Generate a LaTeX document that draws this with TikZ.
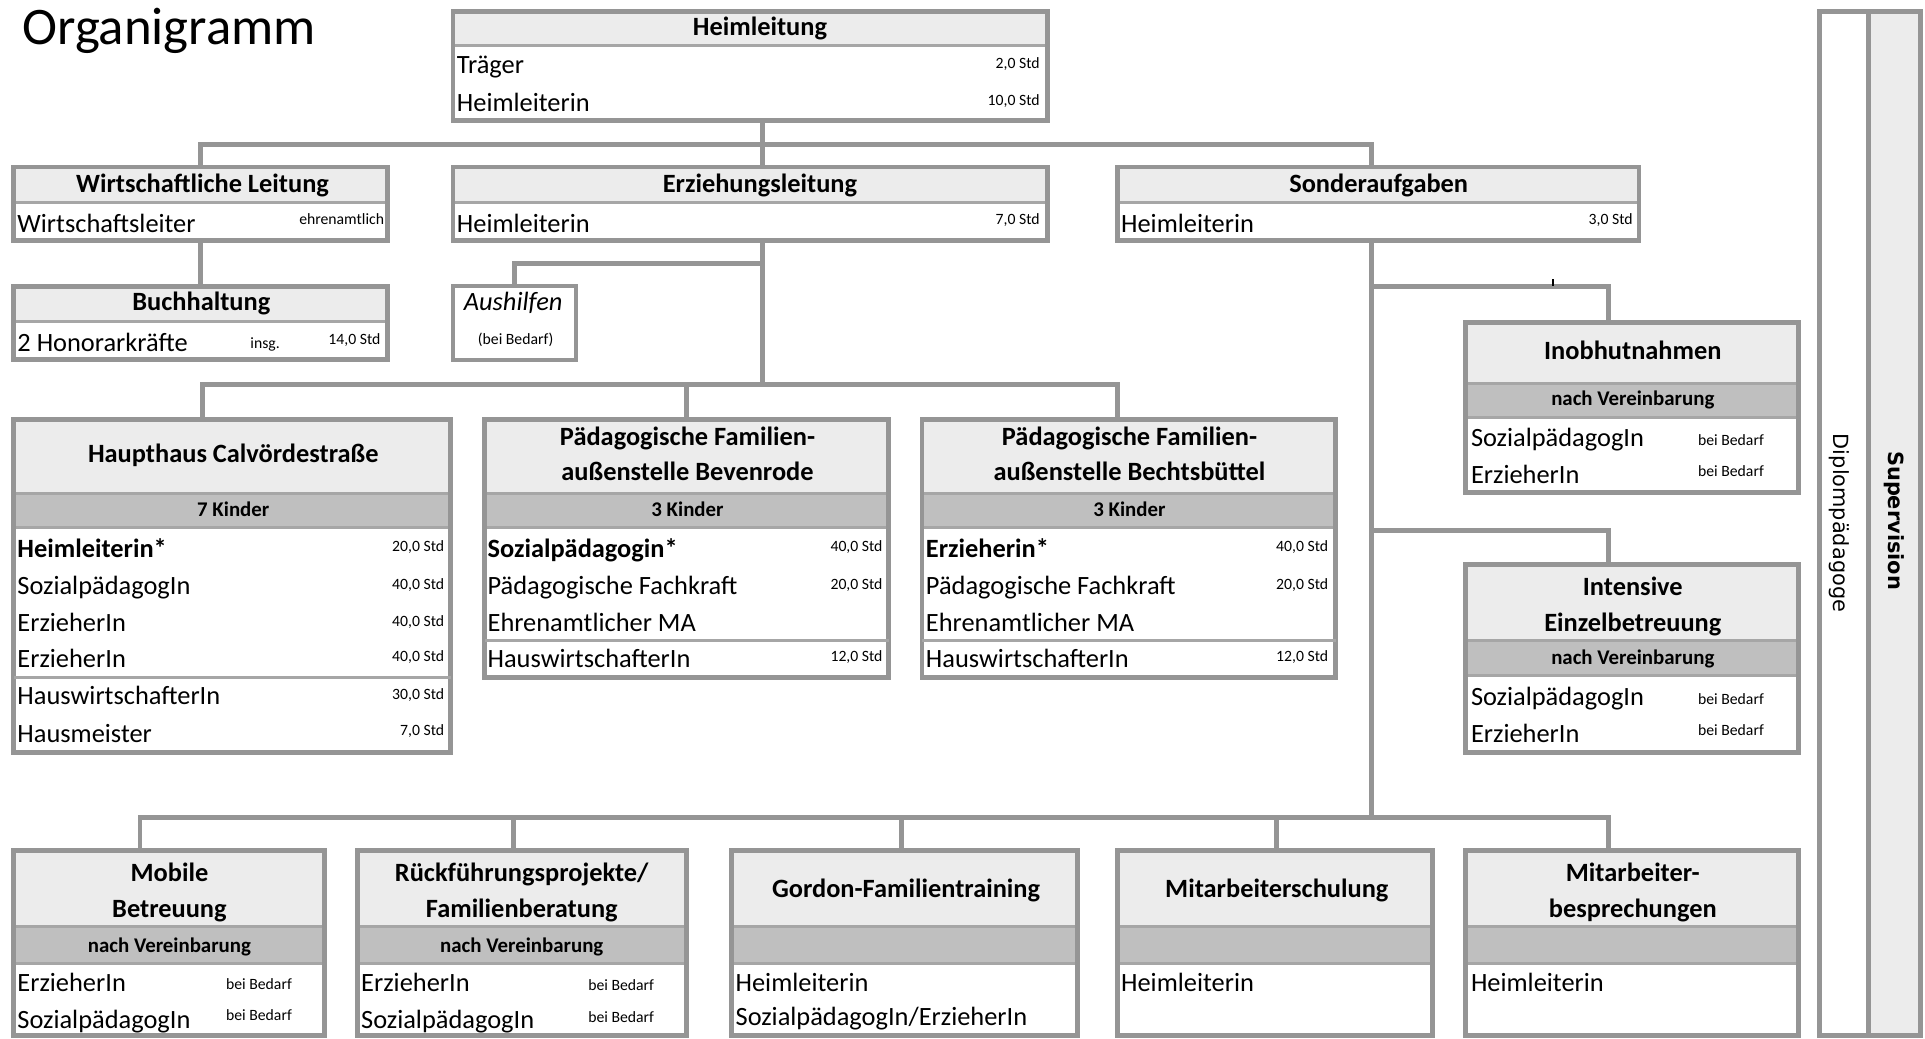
\documentclass[tikz,border=0pt]{standalone}
\usepackage{fontspec}
\setmainfont{Carlito}
\newfontfamily\dejavu{DejaVu Sans}
\usetikzlibrary{fit}
\definecolor{bord}{HTML}{959595}
\definecolor{hdr}{HTML}{ECECEC}
\definecolor{subc}{HTML}{BFBFBF}
\definecolor{sepc}{HTML}{A6A6A6}
\newcounter{tn}
\newcommand\lab[3][]{\stepcounter{tn}\node[#1] (t\arabic{tn}) at (#2) {#3};}
\newcommand\orgA[6]{%
 \fill[white] (#2,#3) rectangle (#4,#5);
 \fill[hdr] (#2,#3) rectangle (#4,#6);
 \draw[sepl] (#2,#6) -- (#4,#6);
 \node[frame, fit={(#2,#3) (#4,#5)}] (#1) {};}
\newcommand\orgB[7]{%
 \fill[white] (#2,#3) rectangle (#4,#5);
 \fill[hdr] (#2,#3) rectangle (#4,#6);
 \fill[subc] (#2,#6) rectangle (#4,#7);
 \draw[sepl] (#2,#6) -- (#4,#6);
 \draw[sepl] (#2,#7) -- (#4,#7);
 \node[frame, fit={(#2,#3) (#4,#5)}] (#1) {};}
\tikzset{
 frame/.style={draw=bord, line width=4pt, rectangle, inner sep=0pt, outer sep=0pt},
 sepl/.style={draw=sepc, line width=2.5pt},
 conn/.style={draw=bord, line width=4pt, line join=miter},
 hd/.style={font=\fontsize{21.5}{26}\selectfont\bfseries, inner sep=0pt, anchor=base},
 sh/.style={font=\fontsize{17}{20}\selectfont\bfseries, inner sep=0pt, anchor=base},
 tx/.style={font=\fontsize{21.5}{26}\selectfont, inner sep=0pt, anchor=base west},
 tb/.style={tx, font=\fontsize{21.5}{26}\selectfont\bfseries},
 hr/.style={font=\fontsize{12.8}{15}\selectfont, inner sep=0pt, anchor=base east},
 hl/.style={hr, anchor=base west},
 hc/.style={hr, anchor=base},
}
\begin{document}
\begin{tikzpicture}[x=1pt,y=-1pt]
\useasboundingbox[fill=white] (0,0) rectangle (1568,845.5);

% ---------- boxes ----------
\orgA{heim}{369}{9}{853}{98}{37}
\orgA{wirt}{11}{136}{316}{196}{165}
\orgA{er}{369}{136}{853}{196}{165}
\orgA{sond}{910}{136}{1335}{196}{165}
\orgA{buch}{11}{233}{316}{293}{262}
\fill[white] (369,233) rectangle (469,293);
\node[frame, line width=3pt, fit={(369,233) (469,293)}] (aush) {};

\orgB{hh}{11}{342}{367}{613}{402}{430}
\draw[sepl] (11,552) -- (367,552);
\orgB{bev}{395}{342}{724}{552}{402}{430}
\draw[sepl] (395,522) -- (724,522);
\orgB{bech}{751}{342}{1088}{552}{402}{430}
\draw[sepl] (751,522) -- (1088,522);

\orgB{inob}{1194}{263}{1465}{401}{312}{340}
\orgB{int}{1194}{460}{1465}{613}{522}{550}

\orgB{mob}{11}{693}{264}{843.5}{755}{785}
\orgB{rue}{291}{693}{559}{843.5}{755}{785}
\orgB{gor}{596}{693}{878}{843.5}{755}{785}
\orgB{msch}{910}{693}{1167}{843.5}{755}{785}
\orgB{mit}{1194}{693}{1465}{843.5}{755}{785}

\fill[white] (1482,9) rectangle (1522,843.5);
\fill[hdr] (1522,9) rectangle (1564,843.5);
\node[frame, fit={(1482,9) (1564,843.5)}] (sup) {};
\coordinate (dv) at (1522,0);
\draw[conn] (sup.north -| dv) -- (sup.south -| dv);

% ---------- connectors ----------
\coordinate (jA) at (165,118);
\coordinate (jE) at (621,118);
\coordinate (jB) at (1117,118);
\coordinate (jF) at (621,215);
\coordinate (jG) at (621,313);
\coordinate (jH) at (165,313);
\coordinate (jI) at (910,313);
\coordinate (jS1) at (1117,233);
\coordinate (jS2) at (1117,432);
\coordinate (jS3) at (1117,666);
\coordinate (jI1) at (1310,233);
\coordinate (jI2) at (1310,432);
\coordinate (jM) at (114,666);
\coordinate (jR) at (418,666);
\coordinate (jGo) at (734,666);
\coordinate (jMs) at (1040,666);
\coordinate (jN) at (1310,666);
\coordinate (tk) at (1265,227.5);

\draw[conn] (wirt.north) -- (wirt.north |- jA) -- (jB) -- (sond.north -| jB);
\draw[conn] (heim.south -| jE) -- (er.north -| jE);
\draw[conn] (wirt.south) -- (buch.north);
\draw[conn] (er.south -| jG) -- (jG);
\draw[conn] (jF) -| (aush.north);
\draw[conn] (hh.north -| jH) -- (jH) -- (jI) -- (bech.north -| jI);
\draw[conn] (bev.north) -- (bev.north |- jG);
\draw[conn] (sond.south -| jS3) -- (jS3);
\draw[conn] (jS1) -- (jI1) -- (inob.north -| jI1);
\draw[conn] (jS2) -- (jI2) -- (int.north -| jI2);
\draw[conn] (mob.north -| jM) -- (jM) -- (jN) -- (mit.north -| jN);
\draw[conn] (jR) -- (rue.north -| jR);
\draw[conn] (jGo) -- (gor.north -| jGo);
\draw[conn] (jMs) -- (msch.north -| jMs);
\draw[black, line width=1pt] (tk) -- (tk |- jS1);

% ---------- texts ----------
\lab[anchor=base west, font=\fontsize{43}{50}\selectfont, inner sep=0pt]{18,36}{Organigramm}

\lab[hd]{619,29}{Heimleitung}
\lab[tx]{372,60}{Träger}
\lab[hr]{847,56}{2,0 Std}
\lab[tx]{372,91}{Heimleiterin}
\lab[hr]{847,86}{10,0 Std}

\lab[hd]{165,157}{Wirtschaftliche Leitung}
\lab[tx]{14,189}{Wirtschaftsleiter}
\lab[hr]{313,183}{ehrenamtlich}

\lab[hd]{619,157}{Erziehungsleitung}
\lab[tx]{372,189}{Heimleiterin}
\lab[hr]{847,183}{7,0 Std}

\lab[hd]{1123,157}{Sonderaufgaben}
\lab[tx]{913,189}{Heimleiterin}
\lab[hr]{1330,183}{3,0 Std}

\lab[hd]{164,253}{Buchhaltung}
\lab[tx]{14,286}{2 Honorarkräfte}
\lab[hc]{216,284}{insg.}
\lab[hr]{310,281}{14,0 Std}

\lab[tx, anchor=base, font=\fontsize{21.5}{26}\selectfont\itshape]{418,253}{Aushilfen}
\lab[hc]{420,281}{(bei Bedarf)}

% Haupthaus
\lab[hd]{190,377}{Haupthaus Calvördestraße}
\lab[sh]{190,420.5}{7 Kinder}
\lab[tb]{14,454}{Heimleiterin*}
\lab[hr]{362,449}{20,0 Std}
\lab[tx]{14,484}{SozialpädagogIn}
\lab[hr]{362,480}{40,0 Std}
\lab[tx]{14,514}{ErzieherIn}
\lab[hr]{362,510}{40,0 Std}
\lab[tx]{14,544}{ErzieherIn}
\lab[hr]{362,539}{40,0 Std}
\lab[tx]{14,574}{HauswirtschafterIn}
\lab[hr]{362,570}{30,0 Std}
\lab[tx]{14,605}{Hausmeister}
\lab[hr]{362,599}{7,0 Std}

% Bevenrode
\lab[hd]{560,363}{Pädagogische Familien-}
\lab[hd]{560,391}{außenstelle Bevenrode}
\lab[sh]{560,420.5}{3 Kinder}
\lab[tb]{397,454}{Sozialpädagogin*}
\lab[hr]{719,449}{40,0 Std}
\lab[tx]{397,484}{Pädagogische Fachkraft}
\lab[hr]{719,480}{20,0 Std}
\lab[tx]{397,514}{Ehrenamtlicher MA}
\lab[tx]{397,544}{HauswirtschafterIn}
\lab[hr]{719,539}{12,0 Std}

% Bechtsbuettel
\lab[hd]{920,363}{Pädagogische Familien-}
\lab[hd]{920,391}{außenstelle Bechtsbüttel}
\lab[sh]{920,420.5}{3 Kinder}
\lab[tb]{754,454}{Erzieherin*}
\lab[hr]{1082,449}{40,0 Std}
\lab[tx]{754,484}{Pädagogische Fachkraft}
\lab[hr]{1082,480}{20,0 Std}
\lab[tx]{754,514}{Ehrenamtlicher MA}
\lab[tx]{754,544}{HauswirtschafterIn}
\lab[hr]{1082,539}{12,0 Std}

% Inobhutnahmen
\lab[hd]{1330,293}{Inobhutnahmen}
\lab[sh]{1330,330.5}{nach Vereinbarung}
\lab[tx]{1198,364}{SozialpädagogIn}
\lab[hl]{1383,363}{bei Bedarf}
\lab[tx]{1198,394}{ErzieherIn}
\lab[hl]{1383,388}{bei Bedarf}

% Intensive
\lab[hd]{1330,485}{Intensive}
\lab[hd]{1330,514}{Einzelbetreuung}
\lab[sh]{1330,541.5}{nach Vereinbarung}
\lab[tx]{1198,575}{SozialpädagogIn}
\lab[hl]{1383,574}{bei Bedarf}
\lab[tx]{1198,605}{ErzieherIn}
\lab[hl]{1383,599}{bei Bedarf}

% bottom row
\lab[hd]{138,718}{Mobile}
\lab[hd]{138,747}{Betreuung}
\lab[sh]{138,775.5}{nach Vereinbarung}
\lab[tx]{14,808}{ErzieherIn}
\lab[hl]{184,806}{bei Bedarf}
\lab[tx]{14,838}{SozialpädagogIn}
\lab[hl]{184,831}{bei Bedarf}

\lab[hd]{425,718}{Rückführungsprojekte/}
\lab[hd]{425,747}{Familienberatung}
\lab[sh]{425,775.5}{nach Vereinbarung}
\lab[tx]{294,808}{ErzieherIn}
\lab[hl]{479,807}{bei Bedarf}
\lab[tx]{294,838}{SozialpädagogIn}
\lab[hl]{479,833}{bei Bedarf}

\lab[hd]{738,731}{Gordon-Familientraining}
\lab[tx]{599,808}{Heimleiterin}
\lab[tx]{599,835}{SozialpädagogIn/ErzieherIn}

\lab[hd]{1040,731}{Mitarbeiterschulung}
\lab[tx]{913,808}{Heimleiterin}

\lab[hd]{1330,718}{Mitarbeiter-}
\lab[hd]{1330,747}{besprechungen}
\lab[tx]{1198,808}{Heimleiterin}

% Supervision
\lab[font=\dejavu\fontsize{17}{20}\selectfont, rotate=-90, inner sep=0pt]{1498,426}{Diplompädagoge}
\lab[font=\dejavu\bfseries\fontsize{17}{20}\selectfont, rotate=-90, inner sep=0pt]{1543,424}{Supervision}
\end{tikzpicture}
\end{document}
